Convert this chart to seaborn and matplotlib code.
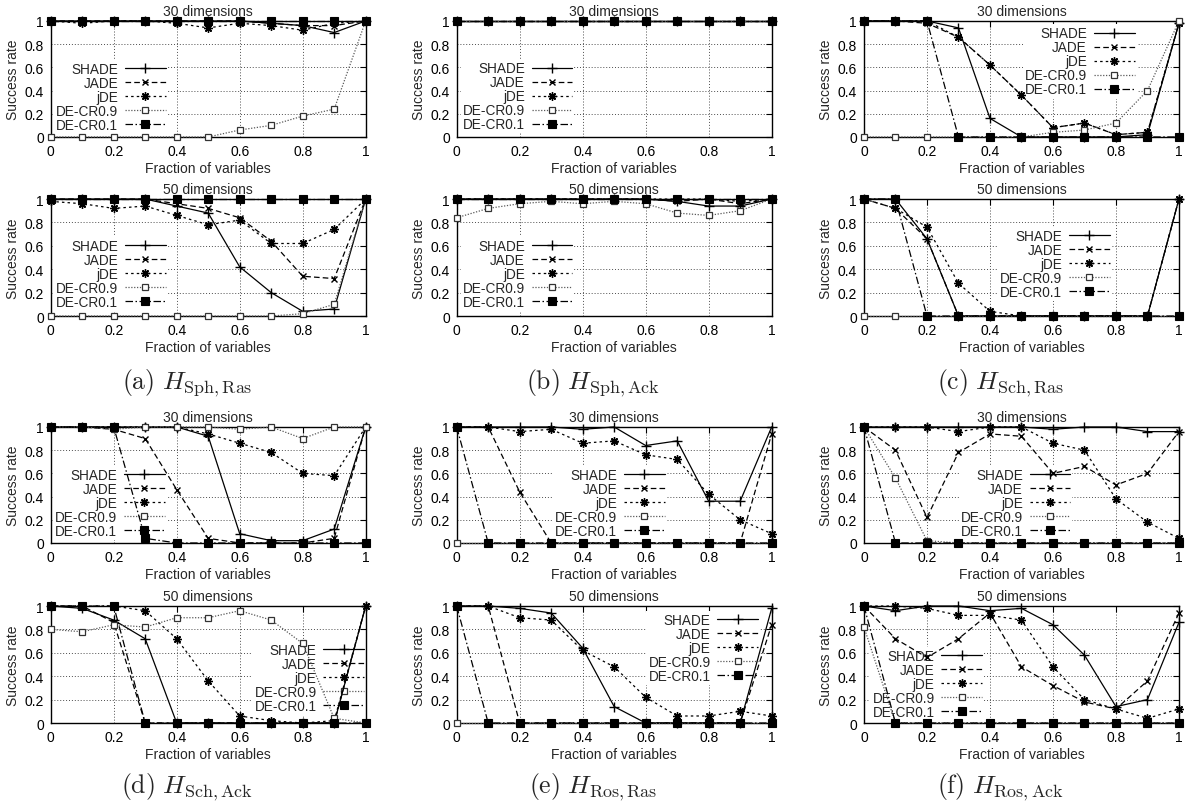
import matplotlib
matplotlib.use("Agg")
import matplotlib.pyplot as plt
import seaborn as sns
from matplotlib.ticker import FuncFormatter, MultipleLocator

# ---------------- data ----------------
fractions = [0.0, 0.1, 0.2, 0.3, 0.4, 0.5, 0.6, 0.7, 0.8, 0.9, 1.0]
series_names = ["SHADE", "JADE", "jDE", "DE-CR0.9", "DE-CR0.1"]
dim_titles = ["30 dimensions", "50 dimensions"]
captions = [r"$(\mathrm{a})\ H_{\mathrm{Sph,Ras}}$", r"$(\mathrm{b})\ H_{\mathrm{Sph,Ack}}$",
            r"$(\mathrm{c})\ H_{\mathrm{Sch,Ras}}$", r"$(\mathrm{d})\ H_{\mathrm{Sch,Ack}}$",
            r"$(\mathrm{e})\ H_{\mathrm{Ros,Ras}}$", r"$(\mathrm{f})\ H_{\mathrm{Ros,Ack}}$"]
x_label = "Fraction of variables"
y_label = "Success rate"

# (a) H_Sph,Ras
a30_shade = [1, 1, 1, 1, 1, 1, 1, 0.98, 0.96, 0.90, 1]
a30_jade  = [1, 1, 1, 1, 1, 1, 1, 0.98, 0.96, 0.96, 1]
a30_jde   = [1, 0.98, 1, 1, 0.98, 0.94, 0.98, 0.96, 0.92, 0.98, 1]
a30_cr09  = [0, 0, 0, 0, 0, 0, 0.06, 0.10, 0.18, 0.24, 1]
a30_cr01  = [1, 1, 1, 1, 1, 1, 1, 1, 1, 1, 1]
a50_shade = [1, 1, 1, 1, 0.94, 0.88, 0.42, 0.20, 0.04, 0.06, 1]
a50_jade  = [1, 1, 1, 1, 0.96, 0.92, 0.84, 0.64, 0.34, 0.32, 1]
a50_jde   = [0.98, 0.96, 0.92, 0.94, 0.86, 0.78, 0.82, 0.62, 0.62, 0.74, 1]
a50_cr09  = [0, 0, 0, 0, 0, 0, 0, 0, 0.02, 0.10, 1]
a50_cr01  = [1, 1, 1, 1, 1, 1, 1, 1, 1, 1, 1]
# (b) H_Sph,Ack
b30_shade = [1, 1, 1, 1, 1, 1, 1, 1, 1, 1, 1]
b30_jade  = [1, 1, 1, 1, 1, 1, 1, 1, 1, 1, 1]
b30_jde   = [1, 1, 1, 1, 1, 1, 1, 1, 1, 1, 1]
b30_cr09  = [1, 1, 1, 1, 1, 1, 1, 1, 1, 1, 1]
b30_cr01  = [1, 1, 1, 1, 1, 1, 1, 1, 1, 1, 1]
b50_shade = [1, 1, 1, 1, 1, 1, 1, 0.98, 0.94, 0.94, 1]
b50_jade  = [1, 1, 1, 1, 1, 1, 1, 0.98, 1, 0.96, 1]
b50_jde   = [1, 1, 1, 1, 1, 1, 1, 1, 1, 0.98, 1]
b50_cr09  = [0.84, 0.92, 0.96, 0.98, 0.96, 0.98, 0.96, 0.88, 0.86, 0.90, 1]
b50_cr01  = [1, 1, 1, 1, 1, 1, 1, 1, 1, 1, 1]
# (c) H_Sch,Ras
c30_shade = [1, 1, 1, 0.94, 0.16, 0, 0, 0, 0, 0.02, 0.98]
c30_jade  = [1, 1, 0.98, 0.86, 0.62, 0.36, 0.08, 0.12, 0.02, 0.04, 0.98]
c30_jde   = [1, 1, 1, 0.86, 0.62, 0.36, 0.08, 0.12, 0.02, 0.04, 0.98]
c30_cr09  = [0, 0, 0, 0, 0, 0, 0.04, 0.06, 0.12, 0.40, 1]
c30_cr01  = [1, 1, 1, 0, 0, 0, 0, 0, 0, 0, 0]
c50_shade = [1, 1, 0.66, 0, 0, 0, 0, 0, 0, 0, 1]
c50_jade  = [1, 0.92, 0.66, 0, 0, 0, 0, 0, 0, 0, 1]
c50_jde   = [1, 0.92, 0.76, 0.28, 0.04, 0, 0, 0, 0, 0, 1]
c50_cr09  = [0, 0, 0, 0, 0, 0, 0, 0, 0, 0, 0]
c50_cr01  = [1, 1, 0, 0, 0, 0, 0, 0, 0, 0, 0]
# (d) H_Sch,Ack
d30_shade = [1, 1, 1, 1, 1, 0.92, 0.08, 0.02, 0.02, 0.12, 1]
d30_jade  = [1, 1, 0.98, 0.90, 0.46, 0.04, 0, 0, 0, 0.04, 1]
d30_jde   = [1, 1, 1, 1, 1, 0.94, 0.86, 0.78, 0.60, 0.58, 1]
d30_cr09  = [1, 1, 0.98, 1, 1, 1, 0.98, 1, 0.90, 1, 1]
d30_cr01  = [1, 1, 1, 0.04, 0, 0, 0, 0, 0, 0, 0]
d50_shade = [1, 0.98, 0.88, 0.72, 0, 0, 0, 0, 0, 0, 1]
d50_jade  = [1, 1, 0.86, 0, 0, 0, 0, 0, 0, 0, 1]
d50_jde   = [1, 1, 1, 0.96, 0.72, 0.36, 0.06, 0.02, 0, 0.02, 1]
d50_cr09  = [0.80, 0.78, 0.84, 0.82, 0.90, 0.90, 0.96, 0.88, 0.68, 0.04, 0]
d50_cr01  = [1, 1, 1, 0, 0, 0, 0, 0, 0, 0, 0]
# (e) H_Ros,Ras
e30_shade = [1, 1, 1, 1, 0.98, 1, 0.84, 0.88, 0.36, 0.36, 1]
e30_jade  = [1, 1, 0.44, 0, 0, 0, 0, 0, 0, 0, 0.94]
e30_jde   = [1, 1, 0.96, 0.98, 0.86, 0.88, 0.76, 0.72, 0.42, 0.20, 0.08]
e30_cr09  = [0, 0, 0, 0, 0, 0, 0, 0, 0, 0, 0]
e30_cr01  = [1, 0, 0, 0, 0, 0, 0, 0, 0, 0, 0]
e50_shade = [1, 1, 0.98, 0.94, 0.64, 0.14, 0, 0, 0, 0, 0.98]
e50_jade  = [1, 1, 0, 0, 0, 0, 0, 0, 0, 0, 0.84]
e50_jde   = [1, 1, 0.90, 0.88, 0.62, 0.48, 0.22, 0.06, 0.06, 0.10, 0.06]
e50_cr09  = [0, 0, 0, 0, 0, 0, 0, 0, 0, 0, 0]
e50_cr01  = [1, 0, 0, 0, 0, 0, 0, 0, 0, 0, 0]
# (f) H_Ros,Ack
f30_shade = [1, 1, 1, 1, 1, 1, 0.98, 1, 1, 0.96, 0.96]
f30_jade  = [1, 0.80, 0.22, 0.78, 0.94, 0.92, 0.60, 0.66, 0.50, 0.60, 0.96]
f30_jde   = [1, 1, 1, 0.96, 1, 1, 0.86, 0.80, 0.38, 0.18, 0.04]
f30_cr09  = [1, 0.56, 0.02, 0, 0, 0, 0, 0, 0, 0, 0]
f30_cr01  = [1, 0, 0, 0, 0, 0, 0, 0, 0, 0, 0]
f50_shade = [1, 0.96, 1, 1, 0.96, 0.98, 0.84, 0.58, 0.14, 0.20, 0.86]
f50_jade  = [1, 0.72, 0.56, 0.72, 0.94, 0.48, 0.32, 0.18, 0.12, 0.36, 0.94]
f50_jde   = [1, 1, 0.98, 0.92, 0.92, 0.88, 0.48, 0.20, 0.12, 0.04, 0.12]
f50_cr09  = [0.82, 0, 0, 0, 0, 0, 0, 0, 0, 0, 0]
f50_cr01  = [1, 0, 0, 0, 0, 0, 0, 0, 0, 0, 0]

panels = [
    [(a30_shade, a30_jade, a30_jde, a30_cr09, a30_cr01), (a50_shade, a50_jade, a50_jde, a50_cr09, a50_cr01)],
    [(b30_shade, b30_jade, b30_jde, b30_cr09, b30_cr01), (b50_shade, b50_jade, b50_jde, b50_cr09, b50_cr01)],
    [(c30_shade, c30_jade, c30_jde, c30_cr09, c30_cr01), (c50_shade, c50_jade, c50_jde, c50_cr09, c50_cr01)],
    [(d30_shade, d30_jade, d30_jde, d30_cr09, d30_cr01), (d50_shade, d50_jade, d50_jde, d50_cr09, d50_cr01)],
    [(e30_shade, e30_jade, e30_jde, e30_cr09, e30_cr01), (e50_shade, e50_jade, e50_jde, e50_cr09, e50_cr01)],
    [(f30_shade, f30_jade, f30_jde, f30_cr09, f30_cr01), (f50_shade, f50_jade, f50_jde, f50_cr09, f50_cr01)],
]

# ---------------- layout / style ----------------
legend_pos = [  # (handle right edge, centre of first entry) in axes fraction
    [(0.36, 0.595), (0.36, 0.61)],
    [(0.362, 0.60), (0.362, 0.61)],
    [(0.854, 0.90), (0.775, 0.695)],
    [(0.357, 0.595), (0.99, 0.63)],
    [(0.655, 0.595), (0.952, 0.89)],
    [(0.65, 0.595), (0.37, 0.58)],
]
col_left = [0.0428, 0.3854, 0.7291]
ax_w = 0.2658
row_bottom = [0.8284, 0.6057, 0.3234, 0.0995]
row_h = [0.1443, 0.1455, 0.1443, 0.1455]
caption_y = [0.524, 0.021]

styles = {
    "SHADE":    dict(linestyle="-", marker="+", markersize=7, markeredgewidth=1.0,
                     markeredgecolor="black", color="black"),
    "JADE":     dict(linestyle=(0, (4.5, 2.5)), marker="x", markersize=5, markeredgewidth=1.0,
                     markeredgecolor="black", color="black"),
    "jDE":      dict(linestyle=(0, (2, 2.5)), marker=(8, 2, 0), markersize=6, markeredgewidth=1.0,
                     markeredgecolor="black", color="black"),
    "DE-CR0.9": dict(linestyle=(0, (1, 1.3)), marker="s", markersize=5, markeredgewidth=0.9,
                     markerfacecolor="white", markeredgecolor="0.2", color="0.35"),
    "DE-CR0.1": dict(linestyle=(0, (6, 2, 1.2, 2)), marker="s", markersize=6, markeredgewidth=0.8,
                     markerfacecolor="black", markeredgecolor="black", color="black"),
}

sns.set_style("white")
plt.rcParams["font.family"] = ["Liberation Sans", "DejaVu Sans"]
plt.rcParams["mathtext.fontset"] = "cm"

fig = plt.figure(figsize=(11.85, 8.04), dpi=100)
fmt = FuncFormatter(lambda v, p: f"{v:g}")

for pi, panel in enumerate(panels):
    col = pi % 3
    prow = pi // 3
    for di, series in enumerate(panel):
        r = prow * 2 + di
        ax = fig.add_axes([col_left[col], row_bottom[r], ax_w, row_h[r]])
        for name, vals in zip(series_names, series):
            sns.lineplot(x=fractions, y=vals, ax=ax, label=name, linewidth=0.9,
                         clip_on=False, zorder=3, **styles[name])
        ax.set_xlim(0, 1)
        ax.set_ylim(0, 1)
        ax.xaxis.set_major_locator(MultipleLocator(0.2))
        ax.yaxis.set_major_locator(MultipleLocator(0.2))
        ax.xaxis.set_major_formatter(fmt)
        ax.yaxis.set_major_formatter(fmt)
        ax.tick_params(direction="in", length=4, width=0.8, labelsize=10,
                       top=True, right=True, pad=5, colors="black")
        ax.grid(True, linestyle=(0, (1, 2)), color="0.3", linewidth=0.7)
        ax.set_axisbelow(True)
        for sp in ax.spines.values():
            sp.set_color("black")
            sp.set_linewidth(1.0)
        ax.set_title(dim_titles[di], fontsize=10, pad=4)
        ax.set_xlabel(x_label, fontsize=10, labelpad=2)
        ax.set_ylabel(y_label, fontsize=10, labelpad=3)
        rx, cy = legend_pos[pi][di]
        h, l = ax.get_legend_handles_labels()
        leg = ax.legend(h, l, loc="upper right", bbox_to_anchor=(rx + 0.012, cy + 0.07),
                        markerfirst=False, frameon=True, fancybox=False, framealpha=1,
                        facecolor="white", edgecolor="none", borderpad=0.15,
                        handlelength=3.0, handletextpad=0.5, labelspacing=0.0,
                        fontsize=9.8, borderaxespad=0)
        leg.set_zorder(1.5)
    cx = col_left[col] + ax_w / 2 - 0.018
    fig.text(cx, caption_y[prow], captions[pi], ha="center", va="center", fontsize=18.5)

fig.savefig("out.png", dpi=100)
